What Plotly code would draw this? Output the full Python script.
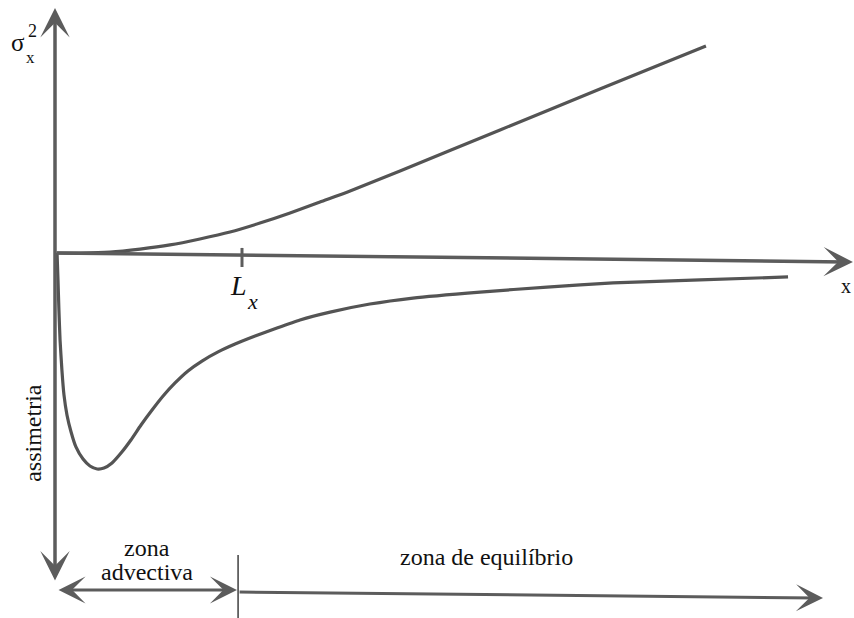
import plotly.graph_objects as go

# Curves in units of the integral length scale Lx (x) and arbitrary y units
variance_x = [0.011, 0.134, 0.294, 0.455, 0.615, 0.775, 0.936, 1.096, 1.257, 1.417,
              1.578, 1.845, 2.380, 2.914, 3.481]
variance_y = [0.0, 0.0, 0.005, 0.021, 0.043, 0.075, 0.112, 0.160, 0.214, 0.273,
              0.332, 0.439, 0.658, 0.877, 1.107]

skew_x = [0.011, 0.016, 0.021, 0.027, 0.037, 0.048, 0.064, 0.086, 0.112, 0.150, 0.187,
          0.225, 0.262, 0.305, 0.353, 0.406, 0.460, 0.519, 0.578, 0.642, 0.711, 0.786,
          0.872, 0.963, 1.070, 1.187, 1.310, 1.471, 1.684, 1.914, 2.273, 2.631, 2.984,
          3.449, 3.920]
skew_y = [0.0, -0.144, -0.305, -0.465, -0.626, -0.759, -0.866, -0.957, -1.037, -1.102, -1.139,
          -1.155, -1.150, -1.123, -1.070, -1.0, -0.920, -0.840, -0.765, -0.695, -0.631, -0.578,
          -0.529, -0.487, -0.444, -0.401, -0.358, -0.316, -0.273, -0.241, -0.209, -0.182, -0.160,
          -0.144, -0.128]

Lx = 1.0
zone_split = 0.979

CURVE = "#545454"
AXIS = "#5c5c5c"
SERIF = "Liberation Serif, Times New Roman, serif"

fig = go.Figure()
fig.add_trace(go.Scatter(x=variance_x, y=variance_y, mode="lines",
                         line=dict(color=CURVE, width=3.2, shape="spline", smoothing=0.6),
                         hoverinfo="skip", showlegend=False))
fig.add_trace(go.Scatter(x=skew_x, y=skew_y, mode="lines",
                         line=dict(color=CURVE, width=3.2, shape="spline", smoothing=0.5),
                         hoverinfo="skip", showlegend=False))


def arrow(x0, y0, x1, y1, both=False, width=3.5, size=1.4):
    fig.add_annotation(x=x1, y=y1, ax=x0, ay=y0, xref="x", yref="y", axref="x", ayref="y",
                       text="", showarrow=True, arrowhead=3, startarrowhead=3,
                       arrowside="end+start" if both else "end",
                       arrowsize=size, startarrowsize=size, arrowwidth=width,
                       arrowcolor=AXIS, standoff=0, startstandoff=0)


# axes
arrow(0.0, -1.759, 0.0, 1.310, both=True)
arrow(0.0, 0.0, 4.267, -0.048)
# zone arrows
arrow(0.011, -1.802, zone_split - 0.006, -1.802, both=True, width=3, size=1.5)
arrow(zone_split, -1.813, 4.107, -1.845, width=3, size=1.5)

# Lx tick and zone divider
fig.add_shape(type="line", x0=Lx, x1=Lx, y0=0.027, y1=-0.075, line=dict(color=AXIS, width=3))
fig.add_shape(type="line", x0=zone_split, x1=zone_split, y0=-1.615, y1=-1.96,
              line=dict(color="#222222", width=1.3))


def label(x, y, text, size, angle=0, family=SERIF, xanchor="center"):
    fig.add_annotation(x=x, y=y, xref="x", yref="y", text=text, showarrow=False,
                       font=dict(family=family, size=size, color="#111111"),
                       textangle=angle, xanchor=xanchor, yanchor="middle")


label(-0.197, 1.128, "σ", 25)
label(-0.133, 1.048, "x", 17)
label(-0.122, 1.188, "2", 18)
label(4.230, -0.176, "x", 20)
label(0.980, -0.176, "<i>L</i>", 28)
label(1.055, -0.262, "<i>x</i>", 22)
label(-0.118, -0.962, "assimetria", 24, angle=-90)
label(0.492, -1.580, "zona", 24)
label(0.492, -1.705, "advectiva", 24)
label(2.310, -1.628, "zona de equilíbrio", 24)

fig.update_layout(
    width=854, height=618, margin=dict(l=0, r=0, t=0, b=0),
    paper_bgcolor="white", plot_bgcolor="white",
    xaxis=dict(range=[-0.2941, 4.2727], visible=False, fixedrange=True),
    yaxis=dict(range=[-1.9519, 1.3529], visible=False, fixedrange=True),
)

fig.write_html("out.html")
